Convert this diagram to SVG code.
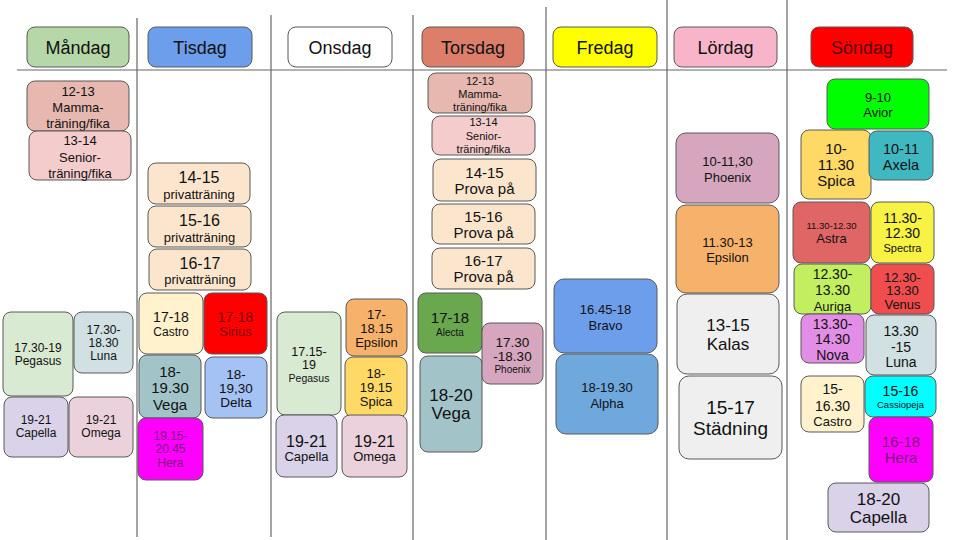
<svg xmlns="http://www.w3.org/2000/svg" width="960" height="540" viewBox="0 0 960 540">
<style>
  rect.b { stroke: #595959; stroke-width: 1; }
  text { font-family: "Liberation Sans", Arial, sans-serif; text-anchor: middle; fill: #111; }
  .h { font-size: 18px; }
  .line { stroke: #666; stroke-width: 1.2; fill: none; }
</style>
<rect width="960" height="540" fill="#ffffff"/>
<g id="connectors">
  <line class="line" x1="17" y1="70" x2="947" y2="70"/>
  <line class="line" x1="137" y1="18" x2="137" y2="537"/>
  <line class="line" x1="271" y1="15" x2="271" y2="537"/>
  <line class="line" x1="413" y1="15" x2="413" y2="540"/>
  <line class="line" x1="546" y1="7" x2="546" y2="540"/>
  <line class="line" x1="667" y1="0" x2="667" y2="540"/>
  <line class="line" x1="787" y1="0" x2="787" y2="540"/>
</g>
<!-- headers -->
<g id="h-mandag"><rect class="b" x="27" y="27" width="102" height="40" rx="8" fill="#b6d7a8"/><text class="h" x="78" y="53.5">Måndag</text></g>
<g id="h-tisdag"><rect class="b" x="148" y="27" width="104" height="40" rx="8" fill="#6d9eeb"/><text class="h" x="200" y="53.5">Tisdag</text></g>
<g id="h-onsdag"><rect class="b" x="288" y="27" width="104" height="40" rx="8" fill="#ffffff"/><text class="h" x="340" y="53.5">Onsdag</text></g>
<g id="h-torsdag"><rect class="b" x="422" y="27" width="102" height="40" rx="8" fill="#dd7e6b"/><text class="h" x="473" y="53.5">Torsdag</text></g>
<g id="h-fredag"><rect class="b" x="553" y="27" width="104" height="40" rx="8" fill="#ffff00"/><text class="h" x="605" y="53.5">Fredag</text></g>
<g id="h-lordag"><rect class="b" x="674" y="27" width="103" height="40" rx="8" fill="#f8b4c8"/><text class="h" x="725.5" y="53.5">Lördag</text></g>
<g id="h-sondag"><rect class="b" x="811" y="27" width="102" height="40" rx="8" fill="#ff0000"/><text class="h" x="862" y="53.5" style="fill:#5a0000">Söndag</text></g>

<!-- Måndag -->
<g id="mon-mamma"><rect class="b" x="27" y="81" width="102" height="50" rx="8" fill="#e6b8af"/><text font-size="13"><tspan x="78" y="95.5">12-13</tspan><tspan x="78" y="112">Mamma-</tspan><tspan x="78" y="128">träning/fika</tspan></text></g>
<g id="mon-senior"><rect class="b" x="29" y="131" width="102" height="49" rx="8" fill="#f4cccc"/><text font-size="13"><tspan x="80" y="144.5">13-14</tspan><tspan x="80" y="161.5">Senior-</tspan><tspan x="80" y="177.5">träning/fika</tspan></text></g>
<g id="mon-pegasus"><rect class="b" x="3" y="312" width="70" height="84" rx="8" fill="#d9ead3"/><text font-size="12"><tspan x="38" y="352">17.30-19</tspan><tspan x="38" y="365">Pegasus</tspan></text></g>
<g id="mon-luna"><rect class="b" x="74" y="312" width="59" height="61" rx="8" fill="#d0e0e3"/><text font-size="12"><tspan x="103.5" y="334">17.30-</tspan><tspan x="103.5" y="347">18.30</tspan><tspan x="103.5" y="360">Luna</tspan></text></g>
<g id="mon-capella"><rect class="b" x="4" y="397" width="64" height="60" rx="8" fill="#d9d2e9"/><text font-size="12"><tspan x="36" y="424">19-21</tspan><tspan x="36" y="437">Capella</tspan></text></g>
<g id="mon-omega"><rect class="b" x="69" y="397" width="64" height="60" rx="8" fill="#ead1dc"/><text font-size="12"><tspan x="101" y="424">19-21</tspan><tspan x="101" y="437">Omega</tspan></text></g>

<!-- Tisdag -->
<g id="tue-priv1"><rect class="b" x="148" y="163" width="102" height="41" rx="8" fill="#fce5cd"/><text><tspan x="199" y="183" font-size="16">14-15</tspan><tspan x="199" y="198.5" font-size="13">privatträning</tspan></text></g>
<g id="tue-priv2"><rect class="b" x="148" y="206" width="103" height="41" rx="8" fill="#fce5cd"/><text><tspan x="199.5" y="226" font-size="16">15-16</tspan><tspan x="199.5" y="241.5" font-size="13">privatträning</tspan></text></g>
<g id="tue-priv3"><rect class="b" x="149" y="249" width="102" height="41" rx="8" fill="#fce5cd"/><text><tspan x="200" y="269" font-size="16">16-17</tspan><tspan x="200" y="283.5" font-size="13">privatträning</tspan></text></g>
<g id="tue-castro"><rect class="b" x="139" y="293" width="64" height="61" rx="8" fill="#fff2cc"/><text><tspan x="171" y="322" font-size="14">17-18</tspan><tspan x="171" y="336" font-size="12">Castro</tspan></text></g>
<g id="tue-sirius"><rect class="b" x="204" y="293" width="63" height="61" rx="8" fill="#ff0000"/><text style="fill:#7a0000"><tspan x="235.5" y="322" font-size="14">17-18</tspan><tspan x="235.5" y="336" font-size="13">Sirius</tspan></text></g>
<g id="tue-vega"><rect class="b" x="139" y="355" width="62" height="63" rx="8" fill="#a2c4c9"/><text font-size="15"><tspan x="170" y="377">18-</tspan><tspan x="170" y="393">19.30</tspan><tspan x="170" y="409.5">Vega</tspan></text></g>
<g id="tue-delta"><rect class="b" x="205" y="357" width="62" height="61" rx="8" fill="#a4c2f4"/><text font-size="13.5"><tspan x="236" y="379">18-</tspan><tspan x="236" y="393">19,30</tspan><tspan x="236" y="407">Delta</tspan></text></g>
<g id="tue-hera"><rect class="b" x="138" y="418" width="65" height="62" rx="8" fill="#ff00ff"/><text font-size="12" style="fill:#7a1a7a"><tspan x="170.5" y="440">19.15-</tspan><tspan x="170.5" y="453">20.45</tspan><tspan x="170.5" y="467">Hera</tspan></text></g>

<!-- Onsdag -->
<g id="wed-pegasus"><rect class="b" x="277" y="312" width="64" height="103" rx="8" fill="#d9ead3"/><text><tspan x="309" y="356" font-size="12.5">17.15-</tspan><tspan x="309" y="369" font-size="12.5">19</tspan><tspan x="309" y="381.5" font-size="10.5">Pegasus</tspan></text></g>
<g id="wed-epsilon"><rect class="b" x="346" y="299" width="61" height="57" rx="8" fill="#f6b26b"/><text font-size="13"><tspan x="376.5" y="318.5">17-</tspan><tspan x="376.5" y="332.5">18.15</tspan><tspan x="376.5" y="346.5">Epsilon</tspan></text></g>
<g id="wed-spica"><rect class="b" x="345" y="357" width="62" height="60" rx="8" fill="#ffd966"/><text font-size="13"><tspan x="376" y="378">18-</tspan><tspan x="376" y="392">19.15</tspan><tspan x="376" y="406">Spica</tspan></text></g>
<g id="wed-capella"><rect class="b" x="276" y="415" width="61" height="62" rx="8" fill="#d9d2e9"/><text><tspan x="306.5" y="446.5" font-size="16">19-21</tspan><tspan x="306.5" y="460.5" font-size="13">Capella</tspan></text></g>
<g id="wed-omega"><rect class="b" x="342" y="415" width="65" height="62" rx="8" fill="#ead1dc"/><text><tspan x="374.5" y="446.5" font-size="16">19-21</tspan><tspan x="374.5" y="460.5" font-size="13">Omega</tspan></text></g>

<!-- Torsdag -->
<g id="thu-mamma"><rect class="b" x="428" y="73" width="104" height="40" rx="8" fill="#e6b8af"/><text font-size="11"><tspan x="480" y="85">12-13</tspan><tspan x="480" y="97.5">Mamma-</tspan><tspan x="480" y="111">träning/fika</tspan></text></g>
<g id="thu-senior"><rect class="b" x="432" y="116" width="103" height="39" rx="8" fill="#f4cccc"/><text font-size="11"><tspan x="483.5" y="126">13-14</tspan><tspan x="483.5" y="140">Senior-</tspan><tspan x="483.5" y="153">träning/fika</tspan></text></g>
<g id="thu-prova1"><rect class="b" x="433" y="159" width="103" height="42" rx="8" fill="#fce5cd"/><text font-size="15"><tspan x="484.5" y="178">14-15</tspan><tspan x="484.5" y="193.5">Prova på</tspan></text></g>
<g id="thu-prova2"><rect class="b" x="432" y="204" width="103" height="40" rx="8" fill="#fce5cd"/><text font-size="15"><tspan x="483.5" y="222">15-16</tspan><tspan x="483.5" y="238">Prova på</tspan></text></g>
<g id="thu-prova3"><rect class="b" x="432" y="248" width="103" height="41" rx="8" fill="#fce5cd"/><text font-size="15"><tspan x="483.5" y="266">16-17</tspan><tspan x="483.5" y="282">Prova på</tspan></text></g>
<g id="thu-alecta"><rect class="b" x="418" y="293" width="64" height="60" rx="8" fill="#6aa84f"/><text><tspan x="450" y="323" font-size="15">17-18</tspan><tspan x="450" y="335.5" font-size="10">Alecta</tspan></text></g>
<g id="thu-vega"><rect class="b" x="420" y="356" width="62" height="96" rx="8" fill="#a2c4c9"/><text font-size="17"><tspan x="451" y="401">18-20</tspan><tspan x="451" y="419">Vega</tspan></text></g>
<g id="thu-phoenix"><rect class="b" x="482" y="323" width="61" height="61" rx="8" fill="#d5a6bd"/><text><tspan x="512.5" y="346.5" font-size="13.5">17.30</tspan><tspan x="512.5" y="361" font-size="13.5">-18.30</tspan><tspan x="512.5" y="373" font-size="10">Phoenix</tspan></text></g>

<!-- Fredag -->
<g id="fri-bravo"><rect class="b" x="554" y="279" width="103" height="74" rx="10" fill="#6d9eeb"/><text font-size="13"><tspan x="605.5" y="313.5">16.45-18</tspan><tspan x="605.5" y="329.5">Bravo</tspan></text></g>
<g id="fri-alpha"><rect class="b" x="556" y="354" width="102" height="80" rx="10" fill="#6fa8dc"/><text font-size="13"><tspan x="607" y="391.5">18-19.30</tspan><tspan x="607" y="407.5">Alpha</tspan></text></g>

<!-- Lördag -->
<g id="sat-phoenix"><rect class="b" x="676" y="133" width="103" height="70" rx="10" fill="#d5a6bd"/><text font-size="13"><tspan x="727.5" y="165.5">10-11,30</tspan><tspan x="727.5" y="181.5">Phoenix</tspan></text></g>
<g id="sat-epsilon"><rect class="b" x="676" y="205" width="103" height="88" rx="10" fill="#f6b26b"/><text font-size="13"><tspan x="727.5" y="246.5">11.30-13</tspan><tspan x="727.5" y="262">Epsilon</tspan></text></g>
<g id="sat-kalas"><rect class="b" x="677" y="294" width="102" height="80" rx="10" fill="#efefef"/><text font-size="17"><tspan x="728" y="331">13-15</tspan><tspan x="728" y="350">Kalas</tspan></text></g>
<g id="sat-stadning"><rect class="b" x="679" y="376" width="103" height="83" rx="10" fill="#efefef"/><text font-size="19"><tspan x="730.5" y="414">15-17</tspan><tspan x="730.5" y="435">Städning</tspan></text></g>

<!-- Söndag -->
<g id="sun-avior"><rect class="b" x="827" y="79" width="102" height="50" rx="8" fill="#00ff00"/><text font-size="13"><tspan x="878" y="101.5">9-10</tspan><tspan x="878" y="116.5">Avior</tspan></text></g>
<g id="sun-spica"><rect class="b" x="801" y="130" width="70" height="69" rx="8" fill="#ffd966"/><text font-size="15"><tspan x="836" y="154">10-</tspan><tspan x="836" y="170">11.30</tspan><tspan x="836" y="186">Spica</tspan></text></g>
<g id="sun-axela"><rect class="b" x="869" y="131" width="64" height="49" rx="8" fill="#3fb8c2"/><text font-size="14.5"><tspan x="901" y="153.5">10-11</tspan><tspan x="901" y="169.5">Axela</tspan></text></g>
<g id="sun-astra"><rect class="b" x="793" y="202" width="77" height="61" rx="8" fill="#e06666"/><text><tspan x="831.5" y="229" font-size="9.5">11.30-12.30</tspan><tspan x="831.5" y="242.5" font-size="13">Astra</tspan></text></g>
<g id="sun-spectra"><rect class="b" x="871" y="202" width="63" height="61" rx="8" fill="#f7f244"/><text><tspan x="902.5" y="223" font-size="14">11.30-</tspan><tspan x="902.5" y="238" font-size="14">12.30</tspan><tspan x="902.5" y="252" font-size="11">Spectra</tspan></text></g>
<g id="sun-auriga"><rect class="b" x="794" y="264" width="77" height="50" rx="8" fill="#c2ef5f"/><text><tspan x="832.5" y="279" font-size="14">12.30-</tspan><tspan x="832.5" y="295" font-size="14">13.30</tspan><tspan x="832.5" y="310.5" font-size="13">Auriga</tspan></text></g>
<g id="sun-venus"><rect class="b" x="871" y="264" width="63" height="50" rx="8" fill="#f04e4e"/><text font-size="13"><tspan x="902.5" y="281.5">12.30-</tspan><tspan x="902.5" y="295">13.30</tspan><tspan x="902.5" y="308.5">Venus</tspan></text></g>
<g id="sun-nova"><rect class="b" x="801" y="314" width="63" height="49" rx="8" fill="#e38ee6"/><text font-size="14"><tspan x="832.5" y="329">13.30-</tspan><tspan x="832.5" y="344">14.30</tspan><tspan x="832.5" y="360">Nova</tspan></text></g>
<g id="sun-luna"><rect class="b" x="866" y="315" width="70" height="60" rx="8" fill="#d0e0e3"/><text font-size="14"><tspan x="901" y="336">13.30</tspan><tspan x="901" y="352">-15</tspan><tspan x="901" y="367">Luna</tspan></text></g>
<g id="sun-castro"><rect class="b" x="801" y="376" width="63" height="56" rx="8" fill="#fff2cc"/><text><tspan x="832.5" y="394" font-size="14">15-</tspan><tspan x="832.5" y="411" font-size="14">16.30</tspan><tspan x="832.5" y="425.5" font-size="13">Castro</tspan></text></g>
<g id="sun-cassiopeja"><rect class="b" x="865" y="376" width="71" height="41" rx="8" fill="#00ffff"/><text><tspan x="900.5" y="396" font-size="14">15-16</tspan><tspan x="900.5" y="407.5" font-size="9.5">Cassiopeja</tspan></text></g>
<g id="sun-hera"><rect class="b" x="869" y="417" width="64" height="65" rx="8" fill="#ff00ff"/><text font-size="15" style="fill:#7a1a7a"><tspan x="901" y="447">16-18</tspan><tspan x="901" y="463">Hera</tspan></text></g>
<g id="sun-capella"><rect class="b" x="828" y="483" width="101" height="49" rx="8" fill="#d9d2e9"/><text font-size="17"><tspan x="878.5" y="505">18-20</tspan><tspan x="878.5" y="523">Capella</tspan></text></g>
</svg>
